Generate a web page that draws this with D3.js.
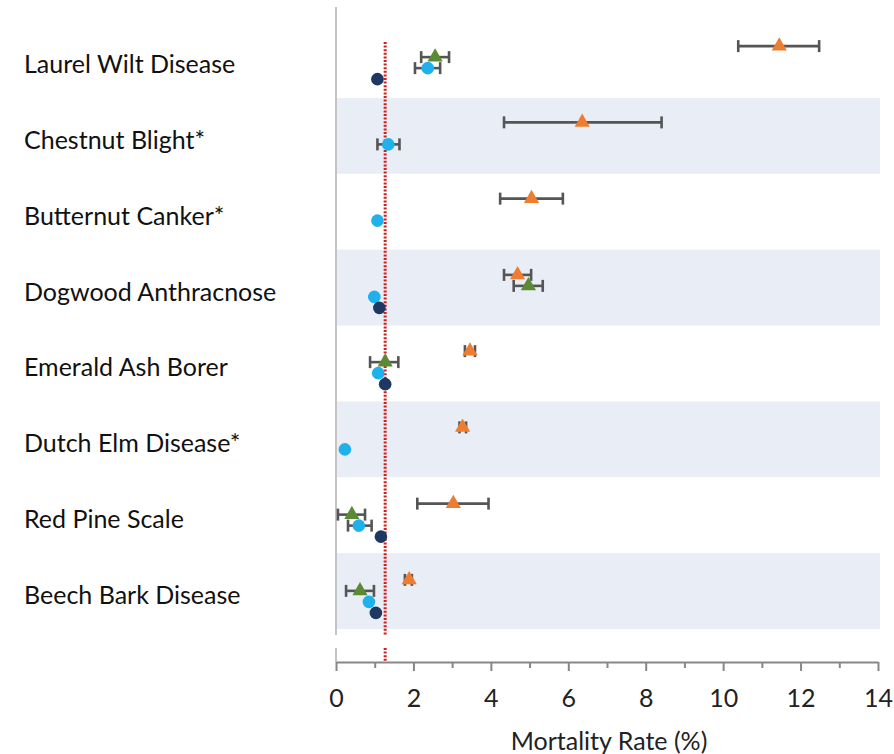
<!DOCTYPE html>
<html>
<head>
<meta charset="utf-8">
<script src="https://cdn.jsdelivr.net/npm/d3@7"></script>
<style>
  body { margin: 0; background: #fff; }
  svg { display: block; }
</style>
</head>
<body>
<svg id="chart" width="894" height="754"></svg>
<script>
// Forest pests and diseases, mortality rate (%) by host group
const categories = [
  "Laurel Wilt Disease",
  "Chestnut Blight*",
  "Butternut Canker*",
  "Dogwood Anthracnose",
  "Emerald Ash Borer",
  "Dutch Elm Disease*",
  "Red Pine Scale",
  "Beech Bark Disease"
];

// orange triangles
const orangeMean = [11.45, 6.36, 5.05, 4.69, 3.46, 3.27, 3.03, 1.89];
const orangeLow  = [10.39, 4.34, 4.24, 4.34, 3.33, 3.19, 2.10, 1.78];
const orangeHigh = [12.48, 8.41, 5.86, 5.04, 3.59, 3.36, 3.94, 1.96];

// green triangles
const greenMean = [2.56, null, null, 4.97, 1.27, null, 0.41, 0.62];
const greenLow  = [2.20, null, null, 4.59, 0.88, null, 0.05, 0.26];
const greenHigh = [2.92, null, null, 5.34, 1.61, null, 0.75, 0.98];

// light blue circles
const blueMean = [2.37, 1.35, 1.07, 0.99, 1.09, 0.23, 0.59, 0.85];
const blueLow  = [2.04, 1.07, null, null, null, null, 0.31, null];
const blueHigh = [2.69, 1.64, null, null, null, null, 0.92, null];

// dark navy circles
const navyMean = [1.07, null, null, 1.12, 1.27, null, 1.16, 1.03];

// background mortality reference line
const referenceRate = 1.27;

const xTicks = [0, 2, 4, 6, 8, 10, 12, 14];
const xMinorTicks = [1, 3, 5, 7, 9, 11, 13];

const series = [
  { key: "orange", shape: "triangle", color: "#ED7D31", mean: orangeMean, low: orangeLow, high: orangeHigh },
  { key: "green",  shape: "triangle", color: "#5B8A34", mean: greenMean,  low: greenLow,  high: greenHigh },
  { key: "blue",   shape: "circle",   color: "#1EB1EC", mean: blueMean,   low: blueLow,   high: blueHigh },
  { key: "navy",   shape: "circle",   color: "#1F3763", mean: navyMean,   low: null,      high: null }
];

const svg = d3.select("#chart");
const font = "Lato, 'Open Sans', sans-serif";

const x = d3.scaleLinear().domain([0, 14]).range([336, 878]);
const rowY = d3.scaleBand().domain(categories).range([22, 629]);
const markY = d3.scaleBand().domain(categories).range([21, 631]);
const offsetY = d3.scalePoint().domain(series.map(s => s.key)).range([-13, 20]);

const axisTop = 7, panelBottom = 635, stubTop = 648, axisY = 662;

// alternating shaded rows
svg.append("g").selectAll("rect")
  .data(categories.filter((c, i) => i % 2 === 1))
  .join("rect")
  .attr("x", x(0) + 1)
  .attr("width", 880 - x(0) - 1)
  .attr("y", d => rowY(d))
  .attr("height", rowY.bandwidth())
  .attr("fill", "#E9EDF6");

// vertical axis line (broken just above the x axis)
const vAxis = svg.append("g").attr("stroke", "#C4C4C4").attr("stroke-width", 2);
vAxis.append("line").attr("x1", x(0)).attr("x2", x(0)).attr("y1", axisTop).attr("y2", panelBottom);
vAxis.append("line").attr("x1", x(0)).attr("x2", x(0)).attr("y1", stubTop).attr("y2", axisY);

// reference line
const ref = svg.append("g")
  .attr("stroke", "#D0201F")
  .attr("stroke-width", 3)
  .attr("stroke-dasharray", "2,1.6");
ref.append("line").attr("x1", x(referenceRate)).attr("x2", x(referenceRate)).attr("y1", 42).attr("y2", panelBottom);
ref.append("line").attr("x1", x(referenceRate)).attr("x2", x(referenceRate)).attr("y1", stubTop).attr("y2", axisY);

// x axis
const gx = svg.append("g").attr("transform", `translate(0,${axisY})`)
  .call(d3.axisBottom(x).tickValues(xTicks).tickSize(9).tickSizeOuter(0));
gx.select(".domain").attr("stroke", "#878787").attr("stroke-width", 2);
gx.selectAll(".tick line").attr("stroke", "#878787").attr("stroke-width", 2);
gx.selectAll(".tick text")
  .attr("y", 45).attr("dy", 0)
  .attr("fill", "#222")
  .style("font-family", font)
  .style("font-size", "25px");

const gxMinor = svg.append("g").attr("transform", `translate(0,${axisY})`)
  .call(d3.axisBottom(x).tickValues(xMinorTicks).tickSize(6).tickFormat(""));
gxMinor.select(".domain").remove();
gxMinor.selectAll(".tick line").attr("stroke", "#878787").attr("stroke-width", 2);

// axis title
svg.append("text")
  .attr("x", 609).attr("y", 750)
  .attr("text-anchor", "middle")
  .attr("fill", "#222")
  .style("font-family", font)
  .style("font-size", "25px")
  .text("Mortality Rate (%)");

// category labels
svg.append("g").selectAll("text")
  .data(categories)
  .join("text")
  .attr("x", 24)
  .attr("y", d => rowY(d) + rowY.bandwidth() / 2 + 13)
  .attr("fill", "#111")
  .style("font-family", font)
  .style("font-size", "25px")
  .text(d => d);

// flatten points
const points = [];
series.forEach(s => {
  categories.forEach((c, i) => {
    if (s.mean[i] == null) return;
    points.push({
      cat: c, s,
      v: s.mean[i],
      lo: s.low ? s.low[i] : null,
      hi: s.high ? s.high[i] : null,
      y: markY(c) + markY.bandwidth() / 2 + offsetY(s.key)
    });
  });
});

// error bars
const errs = svg.append("g").attr("stroke", "#555").attr("stroke-width", 2.6).attr("fill", "none");
points.filter(p => p.lo != null && p.hi != null).forEach(p => {
  const g = errs.append("g");
  g.append("line").attr("x1", x(p.lo)).attr("x2", x(p.hi)).attr("y1", p.y).attr("y2", p.y);
  g.append("line").attr("x1", x(p.lo)).attr("x2", x(p.lo)).attr("y1", p.y - 6).attr("y2", p.y + 6);
  g.append("line").attr("x1", x(p.hi)).attr("x2", x(p.hi)).attr("y1", p.y - 6).attr("y2", p.y + 6);
});

// markers
const triangle = d3.symbol().type(d3.symbolTriangle).size(100);
const marks = svg.append("g");
series.forEach(s => {
  const pts = points.filter(p => p.s === s);
  if (s.shape === "triangle") {
    marks.append("g").selectAll("path").data(pts).join("path")
      .attr("d", triangle)
      .attr("transform", p => `translate(${x(p.v)},${p.y})`)
      .attr("fill", s.color);
  } else {
    marks.append("g").selectAll("circle").data(pts).join("circle")
      .attr("cx", p => x(p.v))
      .attr("cy", p => p.y)
      .attr("r", 6.3)
      .attr("fill", s.color);
  }
});
</script>
</body>
</html>
